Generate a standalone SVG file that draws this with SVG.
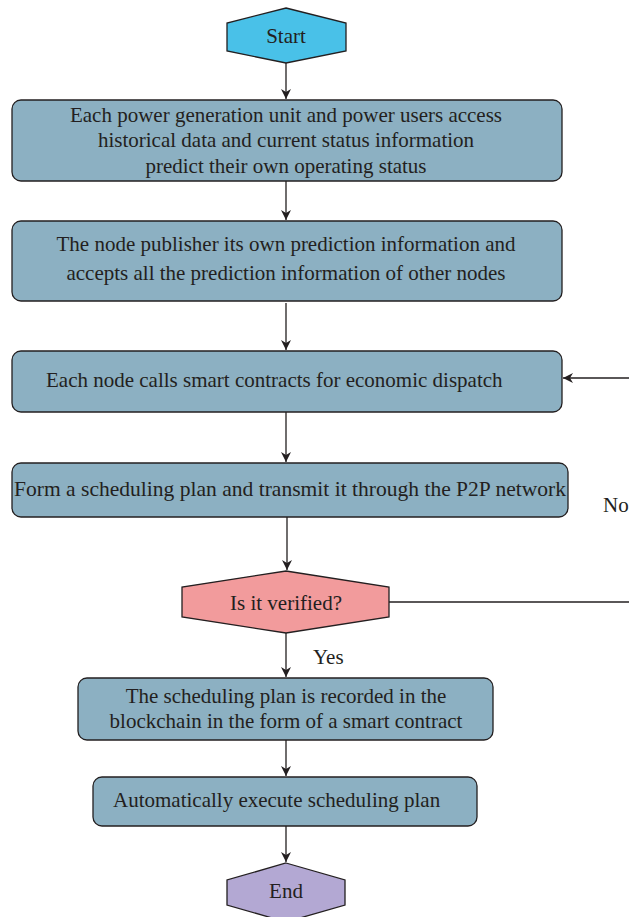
<svg xmlns="http://www.w3.org/2000/svg" width="629" height="917" viewBox="0 0 629 917">
<style>
.box{fill:#8cb0c2;stroke:#231f20;stroke-width:1.3}
.t{font-family:"Liberation Serif","Times New Roman",serif;font-size:21px;fill:#231f20}
.c{text-anchor:middle}
.ln{fill:none;stroke:#231f20;stroke-width:1.3}
</style>
<defs>
<marker id="ah" viewBox="0 0 10 10" refX="10" refY="5" markerWidth="10" markerHeight="10" markerUnits="userSpaceOnUse" orient="auto">
<path d="M0,0 L10,5 L0,10 L3,5 Z" fill="#231f20"/>
</marker>
</defs>
<g id="start">
<polygon points="286,8 346,23 346,51 286,63 227,51 227,23" fill="#49c1e8" stroke="#231f20" stroke-width="1.3"/>
<text class="t c" x="286" y="43">Start</text>
</g>
<g id="step1">
<rect class="box" x="12" y="100" width="550" height="81" rx="9"/>
<text class="t c" x="286" y="122">Each power generation unit and power users access</text>
<text class="t c" x="286" y="147">historical data and current status information</text>
<text class="t c" x="286" y="173">predict their own operating status</text>
</g>
<g id="step2">
<rect class="box" x="12" y="221" width="550" height="80" rx="9"/>
<text class="t c" x="286" y="251">The node publisher its own prediction information and</text>
<text class="t c" x="286" y="280">accepts all the prediction information of other nodes</text>
</g>
<g id="step3">
<rect class="box" x="12" y="351" width="550" height="61" rx="9"/>
<text class="t" x="46" y="387">Each node calls smart contracts for economic dispatch</text>
</g>
<g id="step4">
<rect class="box" x="12" y="463" width="556" height="54" rx="9"/>
<text class="t" x="14" y="496" textLength="552" lengthAdjust="spacingAndGlyphs">Form a scheduling plan and transmit it through the P2P network</text>
</g>
<g id="decision">
<polygon points="286,571 389,587 389,617 286,633 182,617 182,587" fill="#f29b9c" stroke="#231f20" stroke-width="1.3"/>
<text class="t c" x="286" y="610">Is it verified?</text>
</g>
<g id="step5">
<rect class="box" x="78" y="678" width="415" height="62" rx="9"/>
<text class="t c" x="286" y="703">The scheduling plan is recorded in the</text>
<text class="t c" x="286" y="728">blockchain in the form of a smart contract</text>
</g>
<g id="step6">
<rect class="box" x="93" y="777" width="384" height="49" rx="9"/>
<text class="t" x="113" y="807">Automatically execute scheduling plan</text>
</g>
<g id="end">
<polygon points="286,863 345,880 345,905 286,922 227,905 227,880" fill="#b3a8d3" stroke="#231f20" stroke-width="1.3"/>
<text class="t c" x="286" y="898">End</text>
</g>
<g id="connectors">
<line class="ln" x1="286" y1="63" x2="286" y2="99" marker-end="url(#ah)"/>
<line class="ln" x1="286" y1="181" x2="286" y2="220" marker-end="url(#ah)"/>
<line class="ln" x1="286" y1="303" x2="286" y2="350" marker-end="url(#ah)"/>
<line class="ln" x1="286" y1="412" x2="286" y2="462" marker-end="url(#ah)"/>
<line class="ln" x1="287" y1="517" x2="287" y2="570" marker-end="url(#ah)"/>
<line class="ln" x1="286" y1="633" x2="286" y2="677" marker-end="url(#ah)"/>
<line class="ln" x1="286" y1="740" x2="286" y2="776" marker-end="url(#ah)"/>
<line class="ln" x1="286" y1="826" x2="286" y2="862" marker-end="url(#ah)"/>
<line class="ln" x1="389" y1="602" x2="629" y2="602"/>
<line class="ln" x1="629" y1="378" x2="563" y2="378" marker-end="url(#ah)"/>
<text class="t" x="603" y="512">No</text>
<text class="t" x="313" y="664">Yes</text>
</g>
</svg>
